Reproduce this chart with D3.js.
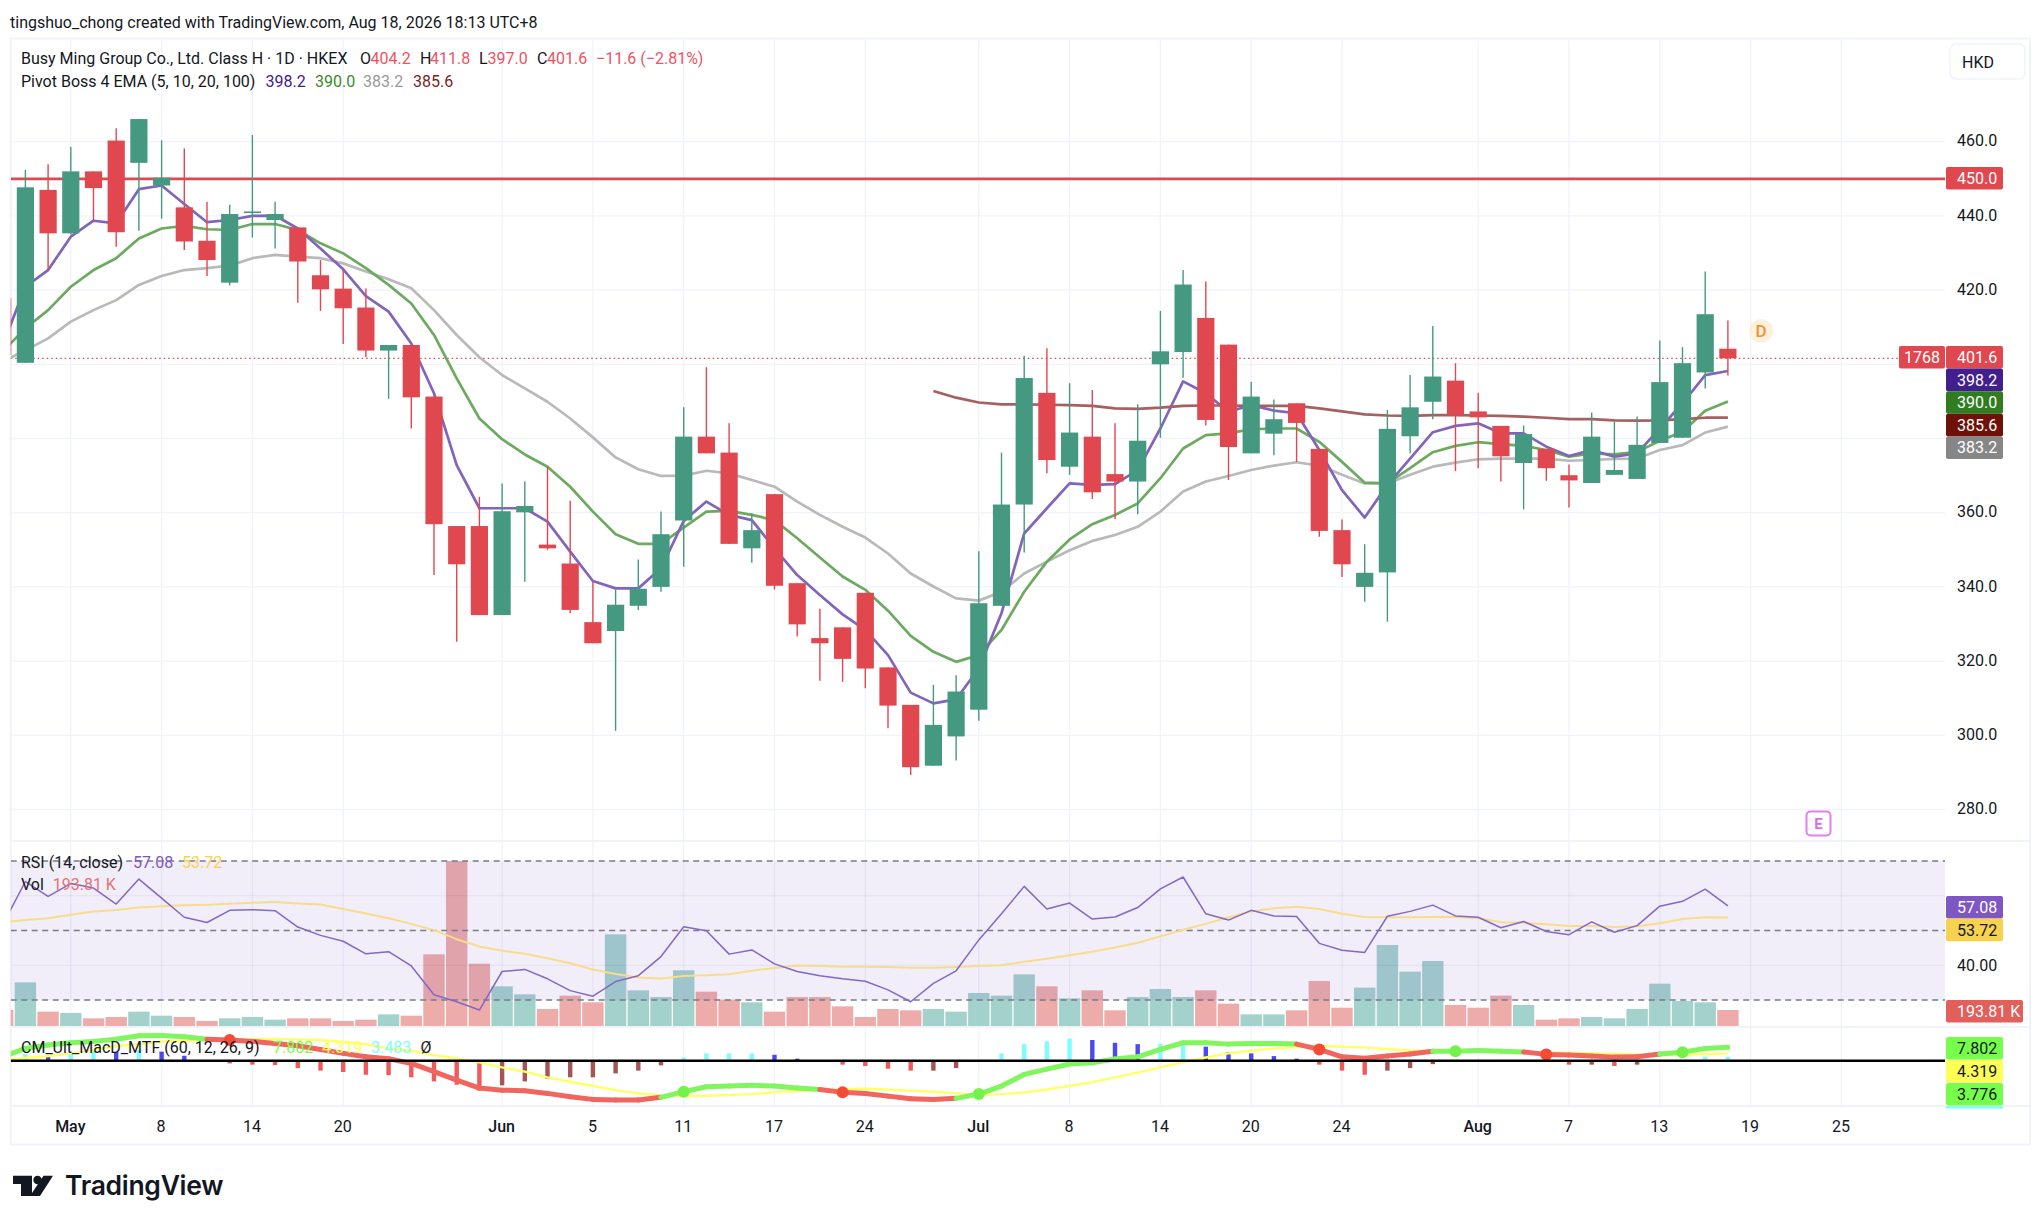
<!DOCTYPE html>
<html>
<head>
<meta charset="utf-8">
<title>Busy Ming Group</title>
<script src="https://cdn.jsdelivr.net/npm/d3@7"></script>
<style>
  html, body { margin: 0; padding: 0; background: #fff; }
  svg { display: block; font-family: Roboto, sans-serif; fill: #131722; }
  .axis text { font-size: 16px; fill: #131722; font-family: Roboto, sans-serif; }
  .axis path, .axis line { display: none; }
</style>
</head>
<body>
<svg id="chart" width="2042" height="1222"></svg>
<script>
// the first bar sits half outside the pane on the left, so the index runs from -1
var barIndex = d3.range(-1, 76);

var opens = [417.8,
  400.4,447,435.3,452,460.3,454.3,448.2,442.3,433.3,422,
  441,438.9,436.9,424,420.4,415.3,403.7,405.2,391.3,356.4,
  356.4,332.4,360.1,351.4,346.3,330.5,328.1,334.9,340,357.9,
  380.5,376.2,350.4,365,341,326.2,329.1,338.4,318.3,308.2,
  291.8,299.7,306.9,334.9,362.2,392.3,372.4,380.5,370.4,368.4,
  400,403.3,412.5,405.3,376,381.3,389.5,377.2,355.3,340,
  343.9,380.6,389.9,395.6,387.3,383.4,373.4,377.2,370.1,368,
  370.2,369.1,378.8,380.2,397.8,404.2];
var closes = [402.5,
  447.7,435.3,452,447.5,435.6,466.1,450.3,433.1,428.1,440.5,
  441.2,440.5,427.7,420.2,415.1,403.7,405.2,391.1,356.9,346.1,
  332.4,360.4,361.8,350.4,333.8,324.8,335.2,339.5,354.2,380.5,
  376,351.6,355.3,340.3,329.9,324.8,320.6,318,308,291.4,
  302.8,311.8,335.6,362.2,396.3,374.2,381.6,365.5,368.4,379.4,
  403.5,421.5,385,377.7,391.3,385.2,384.2,355.1,346.1,343.8,
  382.6,388.4,396.7,386.3,385.7,375.2,381.2,372,368.7,380.5,
  371.5,378.3,395.2,400.3,413.5,401.6];
var highs = [417.8,
  452.4,453.9,458.6,452,463.6,466.1,460.4,458.2,443.8,443,
  461.8,443.8,436.9,428.1,425.6,420.4,405.2,405.2,391.3,356.4,
  364.3,367.9,368.4,372.4,363.2,341.4,339.3,347.4,360.3,388.4,
  399.2,384.1,359.8,365,341,334.1,329.1,338.4,318.3,308.2,
  313.6,316.2,349.6,376.2,402.3,404.3,394.9,393.1,384.1,389.2,
  414.4,425.4,422.3,405.3,395.3,390.5,389.5,377.2,358.2,351.5,
  387.7,397.1,410.3,400.3,392.3,383.4,383.5,377.2,373,387,
  384.5,385.9,406.4,404.6,425,411.8];
var lows = [402.5,
  400.4,425.4,435,438.9,431.7,436,439.2,430.8,423.8,421.3,
  434.2,431.2,416.6,414.4,405.5,401.9,390.7,382.7,343.2,325.2,
  332.4,332.4,341.4,350,332.9,324.8,301.2,333.8,338.7,345.4,
  376,351.6,346.5,339.3,326.6,314.7,314.4,312.7,301.9,289.3,
  291.8,293.2,303.9,334.9,349.3,370.6,370.2,363.7,358.3,359.6,
  380.2,396.4,383.5,368.8,376,375.5,373.7,353.5,342.7,336,
  330.6,376,385.2,371.2,372,368.4,360.9,368.6,361.4,368,
  370.2,369.1,378.8,380.2,393.5,397];

var ema5 = [405.2,
  420.9,425.4,434.4,438.7,438,447.2,448.2,443.2,438.3,438.9,
  440,440.1,436.6,431.2,425.6,418.4,414.2,405.6,392.2,372.8,
  361.2,361.2,361.2,357.6,349.5,341.6,339.6,339.6,345,357.8,
  363,359.4,358,350.4,343.2,337.8,332.6,328.4,321.6,311.5,
  308.6,309.7,318,332.9,354.4,361.2,367.9,367.5,367.7,371.5,
  382.7,395.4,392.2,387.2,389,387.5,386.8,376.9,366.1,358.7,
  367.5,374.6,381.7,383.4,384.1,381.4,381.4,377.8,375.3,376.9,
  375.1,376,382.7,389.5,397.1,398.2];
var ema10 = [403.4,
  409.7,414.6,420.9,425.4,428.6,433.9,436.6,437.3,436.4,436.2,
  437.8,437.8,436.2,432.6,429.9,425.9,421.4,416.4,407.9,396.2,
  385.4,379.8,375.7,372.4,367,360.3,354.2,351.6,351.6,356,
  360.3,360.5,359.4,358,353.1,347.9,342.8,339.2,333.6,326.8,
  322.5,319.8,321.6,328.4,338.7,346.8,352.8,356.9,359.4,362.5,
  369.3,377.3,380.9,381.4,382.5,382.7,382.7,379.1,373.7,368.1,
  367.9,372,376.3,378,379,378.5,378,376.9,375.1,376,
  375.7,376.4,379.4,381.8,387.5,390];
var ema20 = [400.7,
  403.8,407,411.5,414.6,417.3,421.4,423.8,425.4,425.9,426.6,
  428.6,429.5,429,428.6,427.2,425,422.9,420.5,414.6,407.9,
  401.9,397.1,393.5,389.9,385.4,380.3,374.9,371.7,369.9,370,
  371.3,370.6,368.8,367,363,359.4,356.2,353.3,349,343.6,
  340.1,336.9,336.3,338.7,343.6,346.8,349.9,352.4,354,356.2,
  360.3,365.7,368.4,369.9,371.5,372.7,373.6,372.7,370.2,367.9,
  367.9,370.2,372.4,373.5,374.4,374.6,374.6,374.6,374,374.2,
  374.5,374.6,376.9,378.2,381.6,383.2];
var ema100 = barIndex.map(function () { return null; });
var ema100Start = 40;
var ema100Values = [392.8,391,389.7,389.2,389.2,389.1,389,388.8,388.1,388,
  388.3,388.8,388.9,388.9,388.8,388.8,388.8,388.1,387.3,386.5,
  386.2,386.1,386.3,386.3,386.2,386.1,385.9,385.6,385.2,385.2,
  384.9,384.8,384.9,385.2,385.6,385.6];

var volumes = [194,
  529,174,158,93,109,174,125,109,61,93,
  109,77,93,93,61,77,141,125,869,2000,
  755,481,384,206,368,287,1111,432,351,675,
  416,319,287,174,351,351,238,109,206,190,
  206,174,400,368,626,481,335,432,190,351,
  448,351,432,271,141,141,190,545,222,465,
  982,659,788,255,222,368,255,77,93,109,
  93,206,513,303,287,193.81];
var rsi = [51.6,
  64.1,59.8,63.5,62.2,57.6,64.8,59.3,53.8,52.3,55.8,
  56,55.7,51,48.6,46.9,43.3,43.9,39.8,31.5,29.5,
  27.1,38.2,38.8,36.1,32.7,31.1,35.3,37,42.5,51.1,
  49.9,43.2,44.4,40.4,38.2,37,36.1,35.4,32.9,29.5,
  34.8,38.4,47.3,54.8,62.7,56.2,57.9,53.3,53.9,56.6,
  62,65.4,54.8,53,55.8,54.2,54,46.3,44.3,43.7,
  54.1,55.5,57.3,54.2,53.8,50.8,52.6,49.7,48.8,52.5,
  49.5,51.4,57,58.4,61.9,57.08];
var rsiMa = [52.4,
  53,53.5,54.5,55.5,55.9,56.6,57,57.3,57.4,57.7,
  58,58.2,57.8,57.5,56.2,54.9,53.5,51.9,50.1,47.5,
  45.4,44.2,43.3,42,40.6,38.8,37.5,36.5,36.2,36.9,
  37.1,37.4,38.4,39.2,39.9,39.8,39.6,39.6,39.5,39.3,
  39.3,39.5,39.8,40,41,41.9,42.9,43.9,45.1,46.5,
  48.3,50.2,51.9,53.8,55.5,56.4,56.8,56.2,54.8,53.9,
  53.8,53.8,53.9,53.9,53.5,52.4,52.2,51.8,51.3,51.3,
  51,51.2,52.1,53.3,53.8,53.72];
var macd = [2.3,
  7.2,9.2,10.5,11.3,12.5,14.6,14.8,14,12.5,12.1,
  11.3,10.1,8.8,6.6,4.3,2.3,1.2,-1.6,-6.4,-11.3,
  -16,-17.2,-17.5,-19.1,-21.1,-22.6,-23,-23,-21.4,-18.1,
  -15.2,-14.8,-14.4,-14.8,-16,-16.8,-18.5,-19.1,-20.7,-22.2,
  -22.6,-22,-19.5,-14.8,-8,-4.9,-1.9,-1.2,1,2.3,
  6.6,10.5,10.5,9.7,10.1,10.1,9.7,6.6,2.3,1.4,
  2.7,3.9,5.5,5.5,6,5.5,5.1,3.7,3.3,2.7,
  2.1,2.3,3.9,4.9,7.2,7.802];
var signal = [0.6,
  1.6,2.7,4.3,6.2,8.6,9.7,11.1,11.7,12.1,12.1,
  12.7,12.7,12.5,12.1,10.9,9.6,7.2,5.8,3.3,1.4,
  -1,-3.9,-6.4,-9.7,-12.3,-14.8,-17.2,-19.1,-20.3,-20.7,
  -20.5,-20.1,-19.5,-18.5,-17.7,-17.2,-16.8,-16.4,-17,-17.5,
  -18.1,-19.1,-20.1,-19.5,-18.5,-16.8,-14.8,-12.5,-9.7,-7,
  -3.9,-0.8,1.9,4.3,5.8,7.2,7.8,8.6,8.2,7.8,
  6.8,6,5.5,5.8,5.7,5.5,5.1,4.7,4.7,4.3,
  3.9,3.5,3.1,3.5,3.9,4.319];
var hist = [0,
  3.9,2.9,4.9,5.8,5.1,6.2,5.3,2.9,0,-1.6,
  -2.3,-2.5,-4.3,-5.8,-6.6,-8.2,-8.4,-9.7,-12.1,-14,
  -17.5,-14.4,-12.1,-10.5,-9.7,-9.7,-7.4,-5.8,-2.7,1.9,
  4.3,4.3,4.3,3.5,1.2,0,-2.3,-3.1,-4.7,-5.8,
  -5.8,-4.3,0,4.3,9.7,11.3,12.9,12.1,10.5,9.7,
  9.9,10.5,8.2,5.1,4.3,2.7,1.2,-2.3,-5.8,-8.2,
  -5.8,-4.3,-2,0,0,0,0,0,-2.3,-2.3,
  -3.1,-2.3,0,0,2.3,2.3];
// bars where the macd line crosses its signal: red, green, red, ...
var macdCrosses = [9, 29, 36, 42, 57, 63, 67, 73];

var priceTicks = [460, 440, 420, 360, 340, 320, 300, 280];
var priceGrid = [460, 440, 420, 400, 380, 360, 340, 320, 300, 280];
var rsiTicks = [40];
var rsiGrid = [60, 40];
var rsiLevels = [70, 50, 30];
var timeIdx = [2, 6, 10, 14, 21, 25, 29, 33, 37, 42, 46, 50, 54, 58, 64, 68, 72, 76, 80];
var timeLabels = ['May', '8', '14', '20', 'Jun', '5', '11', '17', '24', 'Jul', '8', '14', '20', '24', 'Aug', '7', '13', '19', '25'];
var monthLabels = ['May', 'Jun', 'Jul', 'Aug'];
var resistance = 450;

ema100Values.forEach(function (v, k) { ema100[ema100Start + 1 + k] = v; });

var GREEN = '#449980', RED = '#e1474f';
var left = 10.7, right = 1945;

var svg = d3.select('#chart');

var x = d3.scaleLinear().domain([-1, 80]).range([2.7, 1841.4]);
var y = d3.scaleLinear().domain([280, 460]).range([809.5, 141.7]);
var yVol = d3.scaleLinear().domain([0, 2000]).range([1026, 861]);
var yRsi = d3.scaleLinear().domain([30, 70]).range([1000, 861]);
var yMacd = d3.scaleLinear().domain([-26, 20]).range([1105.2, 1026.5]);

var bars = barIndex.map(function (i, k) {
  return {i: i, o: opens[k], h: highs[k], l: lows[k], c: closes[k], v: volumes[k], hist: hist[k], prevHist: k ? hist[k - 1] : 0};
});

svg.append('clipPath').attr('id', 'pane').append('rect')
  .attr('x', left).attr('y', 38).attr('width', right - left).attr('height', 1070);

// frame
svg.append('rect').attr('x', left).attr('y', 38.5).attr('width', 2030 - left).attr('height', 1106)
  .attr('fill', 'none').attr('stroke', '#f0f3fa').attr('stroke-width', 2);
[841, 1027, 1106].forEach(function (py) {
  svg.append('line').attr('x1', left).attr('x2', 2030).attr('y1', py).attr('y2', py)
    .attr('stroke', '#f0f3fa').attr('stroke-width', 2);
});
svg.append('rect').attr('x', 1950).attr('y', 44).attr('width', 75).attr('height', 35).attr('rx', 6)
  .attr('fill', '#fff').attr('stroke', '#f0f3fa').attr('stroke-width', 1.5);

// grid
var grid = svg.append('g').attr('stroke', '#f0f3fa').attr('stroke-width', 1.3);
grid.selectAll('.v').data(timeIdx).join('line')
  .attr('x1', function (d) { return x(d); }).attr('x2', function (d) { return x(d); })
  .attr('y1', 38).attr('y2', 1106);
grid.selectAll('.p').data(priceGrid).join('line')
  .attr('x1', left).attr('x2', right).attr('y1', function (d) { return y(d); }).attr('y2', function (d) { return y(d); });

var pane = svg.append('g').attr('clip-path', 'url(#pane)');

function drawLine(g, scale, values, color, width) {
  var line = d3.line()
    .defined(function (d) { return d != null; })
    .x(function (d, k) { return x(barIndex[k]); })
    .y(function (d) { return scale(d); });
  g.append('path').attr('d', line(values)).attr('fill', 'none').attr('stroke', color)
    .attr('stroke-width', width).attr('stroke-linejoin', 'round');
}

// price pane
pane.append('line').attr('x1', left).attr('x2', right)
  .attr('y1', y(closes[closes.length - 1])).attr('y2', y(closes[closes.length - 1]))
  .attr('stroke', RED).attr('stroke-dasharray', '1.5 3').attr('stroke-width', 1.2);
pane.append('line').attr('x1', left).attr('x2', right).attr('y1', y(resistance)).attr('y2', y(resistance))
  .attr('stroke', RED).attr('stroke-width', 2.8);
drawLine(pane, y, ema20, '#b9b9b9', 2.7);
drawLine(pane, y, ema10, '#6caa60', 2.7);
drawLine(pane, y, ema5, '#8265bb', 2.7);
drawLine(pane, y, ema100, '#a56060', 2.7);

var candle = pane.append('g').selectAll('g').data(bars).join('g');
candle.append('line')
  .attr('x1', function (d) { return x(d.i); }).attr('x2', function (d) { return x(d.i); })
  .attr('y1', function (d) { return y(d.h); }).attr('y2', function (d) { return y(d.l); })
  .attr('stroke', function (d) { return d.c >= d.o ? GREEN : RED; })
  .attr('stroke-width', 1.4);
candle.append('rect')
  .attr('x', function (d) { return x(d.i) - 8.6; }).attr('width', 17.2)
  .attr('y', function (d) { return y(Math.max(d.o, d.c)); })
  .attr('height', function (d) { return Math.max(1.6, y(Math.min(d.o, d.c)) - y(Math.max(d.o, d.c))); })
  .attr('fill', function (d) { return d.c >= d.o ? GREEN : RED; });

// volume sits under the rsi band
pane.append('g').selectAll('rect').data(bars).join('rect')
  .attr('x', function (d) { return x(d.i) - 10.7; }).attr('width', 21.4)
  .attr('y', function (d) { return yVol(d.v); })
  .attr('height', function (d) { return yVol(0) - yVol(d.v); })
  .attr('fill', function (d) { return d.c >= d.o ? '#a3d2cd' : '#edaca9'; });
pane.append('rect').attr('x', left).attr('width', right - left)
  .attr('y', yRsi(70)).attr('height', yRsi(30) - yRsi(70))
  .attr('fill', '#7e57c2').attr('fill-opacity', 0.1);
rsiGrid.forEach(function (v) {
  pane.append('line').attr('x1', left).attr('x2', right).attr('y1', yRsi(v)).attr('y2', yRsi(v))
    .attr('stroke', '#131722').attr('stroke-opacity', 0.06).attr('stroke-width', 1.2);
});
rsiLevels.forEach(function (v) {
  pane.append('line').attr('x1', left).attr('x2', right).attr('y1', yRsi(v)).attr('y2', yRsi(v))
    .attr('stroke', '#787b86').attr('stroke-dasharray', '6 4.5').attr('stroke-width', 1.3);
});
drawLine(pane, yRsi, rsiMa, '#f7dc8c', 2);
drawLine(pane, yRsi, rsi, '#8467c4', 1.5);

// macd pane
pane.append('g').selectAll('rect').data(bars.filter(function (d) { return d.hist !== 0; })).join('rect')
  .attr('x', function (d) { return x(d.i) - 2.2; }).attr('width', 4.4)
  .attr('y', function (d) { return yMacd(Math.max(0, d.hist)); })
  .attr('height', function (d) { return Math.abs(yMacd(d.hist) - yMacd(0)); })
  .attr('fill', function (d) {
    if (d.hist >= 0) return d.hist >= d.prevHist ? '#7ffcff' : '#4a4af0';
    return d.hist >= d.prevHist ? '#a65555' : '#ef5a5a';
  });
drawLine(pane, yMacd, signal, '#ffff66', 2.4);

function isRedAt(i) {
  var n = macdCrosses.filter(function (c) { return c <= i + 1; }).length;
  return n % 2 === 1;
}
var macdLine = pane.append('g').attr('fill', 'none').attr('stroke-width', 5).attr('stroke-linecap', 'round');
barIndex.slice(1).forEach(function (i, k) {
  macdLine.append('line')
    .attr('x1', x(barIndex[k])).attr('y1', yMacd(macd[k]))
    .attr('x2', x(i)).attr('y2', yMacd(macd[k + 1]))
    .attr('stroke', isRedAt(barIndex[k]) ? '#f0665e' : '#80f55e');
});
pane.append('g').selectAll('circle').data(macdCrosses).join('circle')
  .attr('cx', function (d) { return x(d); })
  .attr('cy', function (d) { return yMacd(macd[d + 1]); })
  .attr('r', 6)
  .attr('fill', function (d, k) { return k % 2 === 0 ? '#f44a36' : '#74f24a'; });
pane.append('line').attr('x1', left).attr('x2', right).attr('y1', yMacd(0)).attr('y2', yMacd(0))
  .attr('stroke', '#000').attr('stroke-width', 2.6);

// axes
var priceAxis = d3.axisRight(y).tickValues(priceTicks).tickFormat(d3.format('.1f')).tickSize(0).tickPadding(12);
svg.append('g').attr('class', 'axis').attr('transform', 'translate(' + right + ',-1)').call(priceAxis);
var rsiAxis = d3.axisRight(yRsi).tickValues(rsiTicks).tickFormat(d3.format('.2f')).tickSize(0).tickPadding(12);
svg.append('g').attr('class', 'axis').attr('transform', 'translate(' + right + ',0)').call(rsiAxis);
var timeAxis = d3.axisBottom(x).tickValues(timeIdx).tickFormat(function (d, k) { return timeLabels[k]; }).tickSize(0).tickPadding(0);
svg.append('g').attr('class', 'axis').attr('transform', 'translate(-1,1121)').call(timeAxis)
  .selectAll('text').attr('font-weight', function (d, k) { return monthLabels.indexOf(timeLabels[k]) >= 0 ? 500 : 400; });

// last value tags on the right
function tag(top, txt, bg, fg, tagX, tagW) {
  var h = 22.6;
  svg.append('rect').attr('x', tagX || 1946).attr('y', top).attr('width', tagW || 57).attr('height', h).attr('rx', 2).attr('fill', bg);
  svg.append('text').attr('x', (tagX || 1946) + 11).attr('y', top + h / 2).attr('dy', '0.36em')
    .attr('font-size', 16).attr('fill', fg).text(txt);
}
tag(167, d3.format('.1f')(resistance), RED, '#fff');
var priceTags = [
  ['401.6', RED, '#fff'], ['398.2', '#41208e', '#fff'], ['390.0', '#2f7d20', '#fff'],
  ['385.6', '#6e1209', '#fff'], ['383.2', '#868686', '#fff']
];
priceTags.forEach(function (d, k) { tag(346 + k * 22.6, d[0], d[1], d[2]); });
svg.append('rect').attr('x', 1899).attr('y', 346).attr('width', 46).attr('height', 22.6).attr('rx', 2).attr('fill', RED);
svg.append('text').attr('x', 1922).attr('y', 357.3).attr('dy', '0.36em').attr('text-anchor', 'middle').attr('font-size', 16).attr('fill', '#fff').text('1768');
tag(896, '57.08', '#7e57c2', '#fff');
tag(918.6, '53.72', '#f7d24f', '#131722');
tag(1000, '193.81 K', '#e25f5c', '#fff', 1946, 77);
tag(1037, '7.802', '#76ff4a', '#131722');
tag(1060, '4.319', '#ffff55', '#131722');
tag(1083, '3.776', '#76ff4a', '#131722');
svg.append('rect').attr('x', 1946).attr('y', 1106).attr('width', 57).attr('height', 2.6).attr('fill', '#7ffcff');

// legends
function legend(yPos, parts) {
  parts.forEach(function (p) {
    svg.append('text').attr('x', p[1]).attr('y', yPos).attr('dy', '0.36em')
      .attr('font-size', 16).attr('fill', p[2] || '#131722').text(p[0]);
  });
}
svg.append('text').attr('x', 10).attr('y', 22.5).attr('dy', '0.36em').attr('font-size', 16).attr('fill', '#131722')
  .text('tingshuo_chong created with TradingView.com, Aug 18, 2026 18:13 UTC+8');
var LEG_RED = '#f0525f';
legend(58, [
  ['Busy Ming Group Co., Ltd. Class H · 1D · HKEX', 21], ['O', 360], ['404.2', 370.5, LEG_RED],
  ['H', 420], ['411.8', 430, LEG_RED], ['L', 479], ['397.0', 487.5, LEG_RED],
  ['C', 537], ['401.6', 547, LEG_RED], ['−11.6 (−2.81%)', 596, LEG_RED]
]);
legend(81.5, [
  ['Pivot Boss 4 EMA (5, 10, 20, 100)', 21], ['398.2', 265.6, '#41208e'], ['390.0', 315, '#3a8a2a'],
  ['383.2', 363, '#9a9a9a'], ['385.6', 413, '#7a1f1f']
]);
legend(862, [['RSI (14, close)', 21], ['57.08', 133, '#7e57c2'], ['53.72', 182, '#f7d24f']]);
legend(884, [['Vol', 21], ['193.81 K', 52.7, '#e57373']]);
legend(1047, [
  ['CM_Ult_MacD_MTF (60, 12, 26, 9)', 21], ['7.802', 273, '#76ff4a'], ['4.319', 322, '#ffff55'],
  ['3.483', 371, '#7ffcff'], ['Ø', 420.5]
]);

svg.append('text').attr('x', 1962).attr('y', 62).attr('dy', '0.36em').attr('font-size', 16).text('HKD');

// chart markers
svg.append('circle').attr('cx', 1761).attr('cy', 331).attr('r', 12).attr('fill', '#fdf0dc');
svg.append('text').attr('x', 1761).attr('y', 331).attr('dy', '0.36em').attr('text-anchor', 'middle')
  .attr('font-size', 17).attr('font-weight', 500).attr('fill', '#f2922c').text('D');
svg.append('rect').attr('x', 1806.5).attr('y', 811.5).attr('width', 24).attr('height', 24).attr('rx', 4)
  .attr('fill', '#fff').attr('stroke', '#e37df5').attr('stroke-width', 2);
svg.append('text').attr('x', 1818.5).attr('y', 823.5).attr('dy', '0.36em').attr('text-anchor', 'middle')
  .attr('font-size', 15).attr('font-weight', 700).attr('fill', '#da6cf0').text('E');

// logo
var logo = svg.append('g').attr('fill', '#131722');
logo.append('path').attr('d', 'M13 1175.7H32V1196H21V1184H13Z');
logo.append('circle').attr('cx', 37.5).attr('cy', 1180).attr('r', 4.2);
logo.append('path').attr('d', 'M43.5 1175.7H53L40 1196H30Z');
svg.append('text').attr('x', 65).attr('y', 1195).attr('font-family', 'Inter, sans-serif')
  .attr('font-size', 26.5).attr('font-weight', 600).attr('letter-spacing', -0.3).attr('fill', '#131722').text('TradingView');
</script>
</body>
</html>
